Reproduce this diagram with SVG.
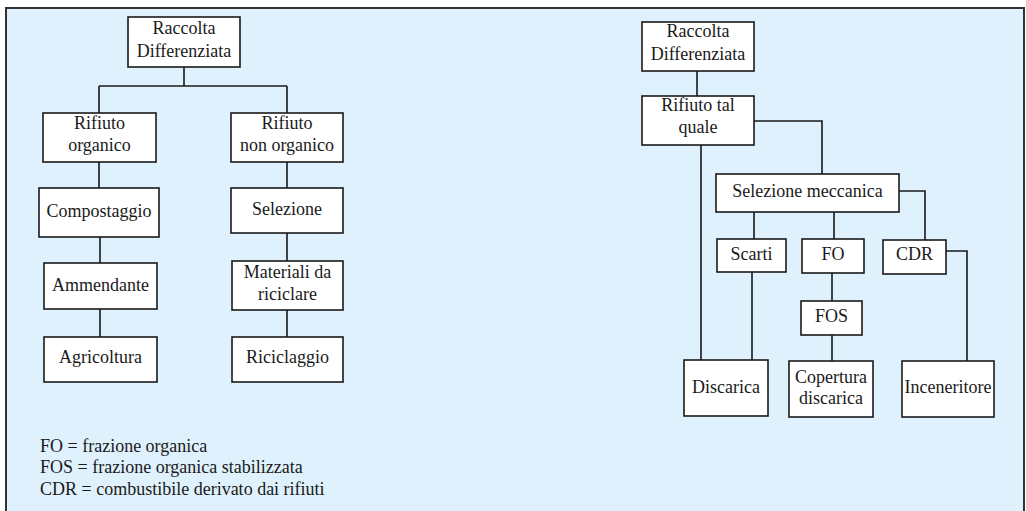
<svg xmlns="http://www.w3.org/2000/svg" width="1026" height="511" viewBox="0 0 1026 511">
<style>
.box{fill:#fff;stroke:#1a1a1a;stroke-width:1.6}
.t{font-family:"Liberation Serif","Times New Roman",serif;font-size:18px;fill:#1a1a1a;text-anchor:middle}
.lg{font-family:"Liberation Serif","Times New Roman",serif;font-size:18px;fill:#1a1a1a}
.c{fill:none;stroke:#1a1a1a;stroke-width:1.6}
</style>
<rect x="0" y="0" width="1026" height="511" fill="#fff"/>
<rect x="6" y="8" width="1018" height="515" fill="#dff1fc" stroke="#333" stroke-width="2"/>
<g id="connectors">
<path class="c" d="M184,67V86M99,86H287M99,86V113M287,86V113M99,162V188M100,237V263M100,309V337M287,162V188M287,233V261M287,310V337"/>
<path class="c" d="M697,71V96M754,121H822V174M701,145V360M899,191H925V240M754,212V239M752,272V360M834,212V239M832,273V301M832,335V361M946,251H967V361"/>
</g>
<g id="l-raccolta"><rect class="box" x="128" y="17" width="112" height="50"/><text class="t" x="184" y="34">Raccolta</text><text class="t" x="184" y="57">Differenziata</text></g>
<g id="l-organico"><rect class="box" x="43" y="113" width="113" height="49"/><text class="t" x="99.5" y="129">Rifiuto</text><text class="t" x="99.5" y="151">organico</text></g>
<g id="l-nonorganico"><rect class="box" x="231" y="113" width="112" height="49"/><text class="t" x="287" y="129">Rifiuto</text><text class="t" x="287" y="151">non organico</text></g>
<g id="l-compostaggio"><rect class="box" x="39" y="188" width="120" height="49"/><text class="t" x="99" y="217">Compostaggio</text></g>
<g id="l-ammendante"><rect class="box" x="44" y="263" width="113" height="46"/><text class="t" x="100.5" y="291">Ammendante</text></g>
<g id="l-agricoltura"><rect class="box" x="44" y="337" width="113" height="45"/><text class="t" x="100.5" y="363">Agricoltura</text></g>
<g id="l-selezione"><rect class="box" x="231" y="188" width="112" height="45"/><text class="t" x="287" y="215">Selezione</text></g>
<g id="l-materiali"><rect class="box" x="232" y="261" width="111" height="49"/><text class="t" x="287.5" y="278">Materiali da</text><text class="t" x="287.5" y="300">riciclare</text></g>
<g id="l-riciclaggio"><rect class="box" x="232" y="337" width="111" height="45"/><text class="t" x="287.5" y="363">Riciclaggio</text></g>
<g id="r-raccolta"><rect class="box" x="642" y="22" width="112" height="49"/><text class="t" x="698" y="37">Raccolta</text><text class="t" x="698" y="60">Differenziata</text></g>
<g id="r-talquale"><rect class="box" x="642" y="96" width="112" height="49"/><text class="t" x="698" y="111">Rifiuto tal</text><text class="t" x="698" y="133">quale</text></g>
<g id="r-selmecc"><rect class="box" x="716" y="174" width="183" height="38"/><text class="t" x="807.5" y="197">Selezione meccanica</text></g>
<g id="r-scarti"><rect class="box" x="717" y="239" width="69" height="33"/><text class="t" x="751.5" y="260">Scarti</text></g>
<g id="r-fo"><rect class="box" x="802" y="239" width="62" height="34"/><text class="t" x="833" y="260">FO</text></g>
<g id="r-cdr"><rect class="box" x="883" y="240" width="63" height="34"/><text class="t" x="914.5" y="260">CDR</text></g>
<g id="r-fos"><rect class="box" x="801" y="301" width="61" height="34"/><text class="t" x="831.5" y="322">FOS</text></g>
<g id="r-discarica"><rect class="box" x="684" y="360" width="84" height="56"/><text class="t" x="726" y="393">Discarica</text></g>
<g id="r-copertura"><rect class="box" x="789" y="361" width="84" height="56"/><text class="t" x="831" y="383">Copertura</text><text class="t" x="831" y="404">discarica</text></g>
<g id="r-inceneritore"><rect class="box" x="902" y="361" width="92" height="56"/><text class="t" x="948" y="393">Inceneritore</text></g>
<g id="legend">
<text class="lg" x="40" y="452">FO = frazione organica</text>
<text class="lg" x="40" y="473">FOS = frazione organica stabilizzata</text>
<text class="lg" x="40" y="495">CDR = combustibile derivato dai rifiuti</text>
</g>
</svg>
